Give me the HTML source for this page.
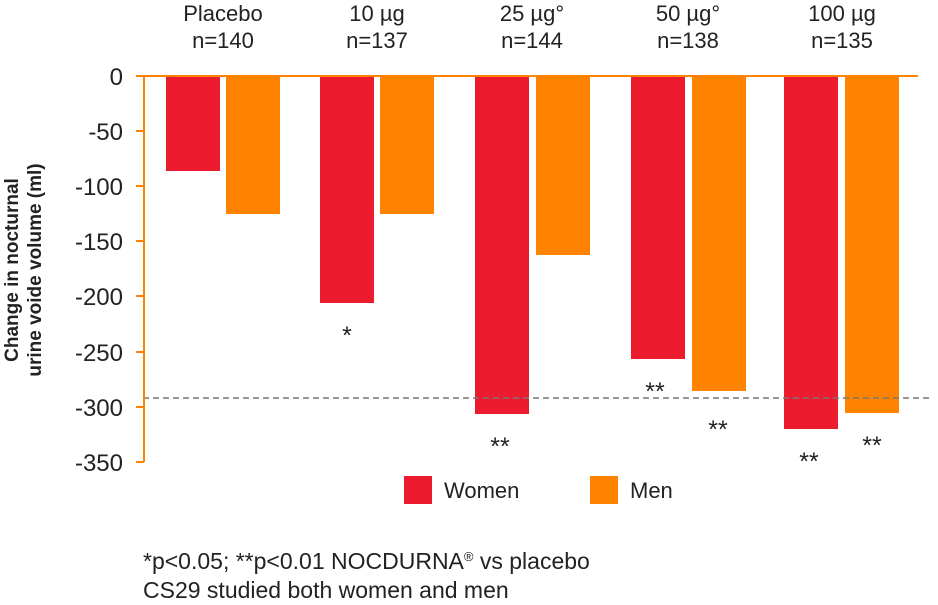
<!DOCTYPE html>
<html><head><style>
body{margin:0;background:#fff;}
svg text{font-family:"Liberation Sans",sans-serif;fill:#222;}
</style></head><body>
<svg width="938" height="600" viewBox="0 0 938 600" xmlns="http://www.w3.org/2000/svg">
<g font-size="22" text-anchor="middle">
<text x="223" y="21">Placebo</text><text x="223" y="48">n=140</text>
<text x="377" y="21">10 µg</text><text x="377" y="48">n=137</text>
<text x="532" y="21">25 µg°</text><text x="532" y="48">n=144</text>
<text x="688" y="21">50 µg°</text><text x="688" y="48">n=138</text>
<text x="842" y="21">100 µg</text><text x="842" y="48">n=135</text>
</g>
<g fill="#ec1b2e">
<rect x="166" y="76" width="54" height="95"/>
<rect x="320" y="76" width="54" height="227"/>
<rect x="475" y="76" width="54" height="338"/>
<rect x="631" y="76" width="54" height="283"/>
<rect x="784" y="76" width="54" height="353"/>
<rect x="404" y="476" width="28" height="28"/>
</g>
<g fill="#ff8200">
<rect x="226" y="76" width="54" height="138"/>
<rect x="380" y="76" width="54" height="138"/>
<rect x="536" y="76" width="54" height="179"/>
<rect x="692" y="76" width="54" height="315"/>
<rect x="845" y="76" width="54" height="337"/>
<rect x="590" y="476" width="28" height="28"/>
</g>
<line x1="143" y1="398" x2="932" y2="398" stroke="#777" stroke-width="1.5" stroke-dasharray="6,4"/>
<g stroke="#ff8200" stroke-width="2">
<line x1="136" y1="76" x2="918" y2="76"/>
<line x1="144" y1="76" x2="144" y2="462"/>
<line x1="136" y1="131" x2="144" y2="131"/>
<line x1="136" y1="186" x2="144" y2="186"/>
<line x1="136" y1="241" x2="144" y2="241"/>
<line x1="136" y1="296" x2="144" y2="296"/>
<line x1="136" y1="352" x2="144" y2="352"/>
<line x1="136" y1="407" x2="144" y2="407"/>
<line x1="136" y1="462" x2="144" y2="462"/>
</g>
<g font-size="24" text-anchor="end" fill="#333">
<text x="123" y="85">0</text>
<text x="123" y="140">-50</text>
<text x="123" y="195">-100</text>
<text x="123" y="250">-150</text>
<text x="123" y="305">-200</text>
<text x="123" y="361">-250</text>
<text x="123" y="416">-300</text>
<text x="123" y="471">-350</text>
</g>
<g font-size="19" font-weight="bold" text-anchor="middle">
<text transform="translate(18,270) rotate(-90)">Change in nocturnal</text>
<text transform="translate(41,270) rotate(-90)">urine voide volume (ml)</text>
</g>
<g font-size="25" text-anchor="middle">
<text x="347" y="344">*</text>
<text x="500" y="455">**</text>
<text x="655" y="400">**</text>
<text x="718" y="438">**</text>
<text x="809" y="470">**</text>
<text x="872" y="454">**</text>
</g>
<text x="444" y="498" font-size="22">Women</text>
<text x="630" y="498" font-size="22">Men</text>
<text x="143" y="569" font-size="23">*p&lt;0.05; **p&lt;0.01 NOCDURNA<tspan font-size="13" dy="-8">®</tspan><tspan dy="8"> vs placebo</tspan></text>
<text x="143" y="598" font-size="23">CS29 studied both women and men</text>
</svg>
</body></html>
